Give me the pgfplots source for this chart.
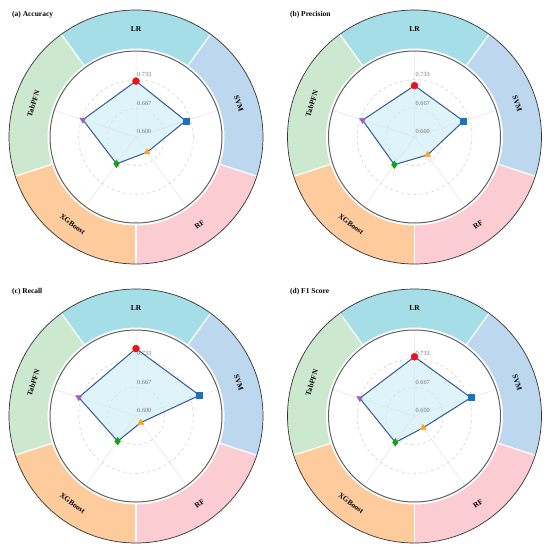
\documentclass[border=0pt]{standalone}
\usepackage{pgfplots}
\pgfplotsset{compat=1.18}
\usepgfplotslibrary{polar}
\usepackage{fontspec}
\setmainfont{Liberation Serif}

\definecolor{cLR}{HTML}{A6DEE8}
\definecolor{cSVM}{HTML}{BDD7EE}
\definecolor{cRF}{HTML}{FBCCD1}
\definecolor{cXGB}{HTML}{FDCB9C}
\definecolor{cTab}{HTML}{CCE8CF}
\definecolor{polyline}{HTML}{35569A}
\definecolor{polyfill}{HTML}{CDEEF6}
\definecolor{mred}{HTML}{E8141C}
\definecolor{mblue}{HTML}{1A72B8}
\definecolor{morange}{HTML}{FFA31A}
\definecolor{mgreen}{HTML}{16A016}
\definecolor{mpurple}{HTML}{A060C0}

\pgfplotsset{radar/.style={
  scale only axis, width=172bp, height=172bp,
  anchor=center,
  xmin=0, xmax=360, ymin=0, ymax=0.2,
  xtick={18,90,162,234,306}, xticklabels={},
  ytick={0.0666667,0.1333333}, yticklabels={},
  xmajorgrids, ymajorgrids,
  x grid style={draw=gray!22, line width=0.5bp},
  y grid style={draw=gray!40, dashed, line width=0.5bp},
  axis line style={draw=none},
  major tick length=0pt,
  clip=false,
  y filter/.expression={y-0.6},
}}

% polygon + markers from plain values: LR, SVM, RF, XGBoost, TabPFN
\newcommand{\radarplots}[5]{%
  \addplot[draw=polyline, line width=1bp, fill=polyfill, fill opacity=0.65]
    coordinates {(90,#1) (18,#2) (306,#3) (234,#4) (162,#5) (90,#1)};
  \addplot[only marks, mark=*, mark size=3.5bp, color=mred] coordinates {(90,#1)};
  \addplot[only marks, mark=square*, mark size=3bp, color=mblue] coordinates {(18,#2)};
  \addplot[only marks, mark=triangle*, mark size=3.5bp, color=morange] coordinates {(306,#3)};
  \addplot[only marks, mark=diamond*, mark size=3.8bp, color=mgreen] coordinates {(234,#4)};
  \addplot[only marks, mark=triangle*, mark size=3.5bp, color=mpurple, mark options={rotate=180}] coordinates {(162,#5)};
}

\newcommand{\sector}[3]{%
  \fill[#1] (#2:88.5bp) arc[start angle=#2,end angle=#3,radius=88.5bp]
    -- (#3:127bp) arc[start angle=#3,end angle=#2,radius=127bp] -- cycle;}

\newcommand{\ring}[5]{%
\begin{scope}[shift={(#1bp,#2bp)}]
  \sector{cLR}{54}{126}
  \sector{cSVM}{-18}{54}
  \sector{cRF}{-90}{-18}
  \sector{cXGB}{-162}{-90}
  \sector{cTab}{126}{198}
  \foreach \a in {54,126,198,270,342} \draw[white, line width=1.2bp] (\a:88bp) -- (\a:127.5bp);
  \draw[black!80, line width=0.7bp] (0,0) circle[radius=127bp];
  \draw[black!62, line width=1bp] (0,0) circle[radius=86bp];
  \begin{scope}[every node/.style={font=\bfseries\fontsize{7.5}{9}\selectfont, inner sep=0pt}]
    \node[rotate=0] at (90:108bp) {LR};
    \node[rotate=-72] at (18:108bp) {SVM};
    \node[rotate=36] at (-54:108bp) {RF};
    \node[rotate=-36] at (-126:108bp) {XGBoost};
    \node[rotate=72] at (162:108bp) {TabPFN};
  \end{scope}
  \begin{scope}[every node/.style={font=\fontsize{6.3}{7}\selectfont, text=black!55, inner sep=0pt, anchor=south west}]
    \node at (1bp,3bp) {0.600};
    \node at (1bp,31.67bp) {0.667};
    \node at (1bp,60.33bp) {0.733};
  \end{scope}
\end{scope}
\node[anchor=west, font=\bfseries\fontsize{7.5}{9}\selectfont, inner sep=0pt] at (#3bp,#4bp) {#5};
}

\begin{document}
\begin{tikzpicture}
\path[use as bounding box] (0,0) rectangle (550bp,-550bp);

\begin{polaraxis}[radar, at={(136bp,-137bp)}]
  \radarplots{0.730}{0.7216}{0.6438}{0.677}{0.730}
\end{polaraxis}
\ring{136}{-137}{12}{-15}{(a) Accuracy}

\begin{polaraxis}[radar, at={(414.5bp,-137bp)}]
  \radarplots{0.7195}{0.720}{0.6516}{0.6796}{0.727}
\end{polaraxis}
\ring{414.5}{-137}{290}{-15}{(b) Precision}

\begin{polaraxis}[radar, at={(136bp,-416bp)}]
  \radarplots{0.7568}{0.7555}{0.619}{0.6726}{0.740}
\end{polaraxis}
\ring{136}{-416}{12}{-292}{(c) Recall}

\begin{polaraxis}[radar, at={(414.5bp,-416bp)}]
  \radarplots{0.7377}{0.738}{0.634}{0.6758}{0.7338}
\end{polaraxis}
\ring{414.5}{-416}{290}{-292}{(d) F1 Score}

\end{tikzpicture}
\end{document}
